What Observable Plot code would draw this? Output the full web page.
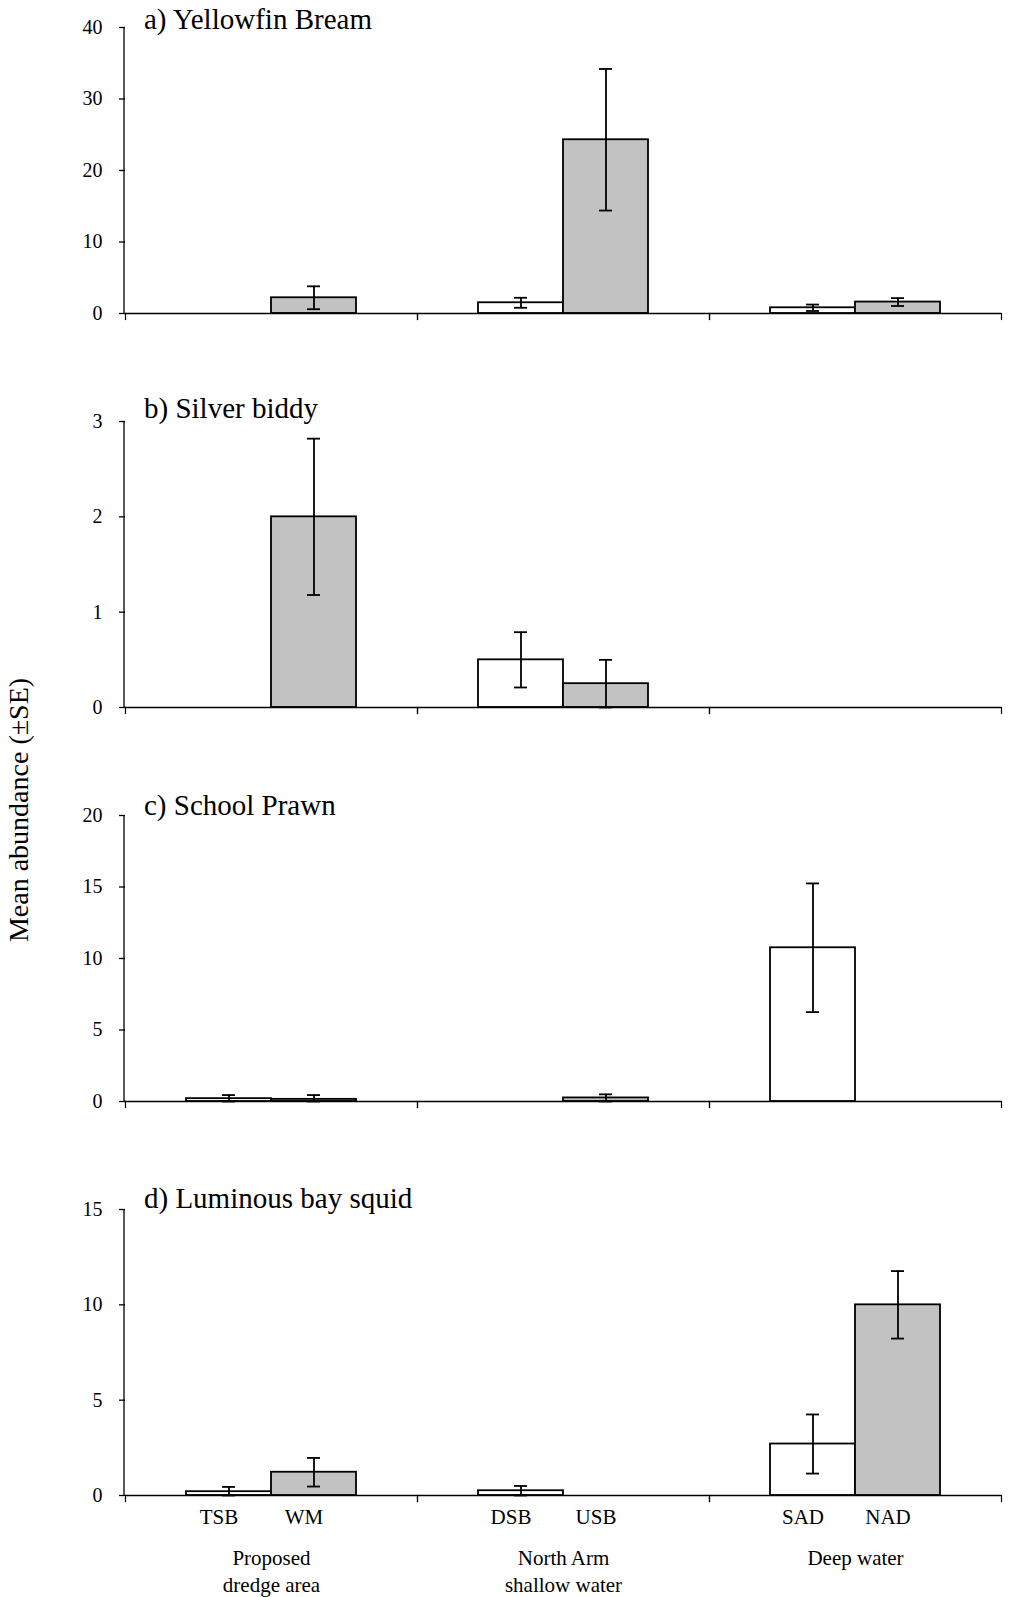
<!DOCTYPE html>
<html><head><meta charset="utf-8">
<script src="https://cdn.jsdelivr.net/npm/d3@7"></script>
<script src="https://cdn.jsdelivr.net/npm/@observablehq/plot@0.6"></script>
<style>
body{margin:0;background:#fff;}
#wrap{position:relative;width:1017px;height:1597px;font-family:"Liberation Serif","Times New Roman",serif;color:#000;overflow:hidden;}
.panel{position:absolute;left:0;width:1017px;}
.panel svg{overflow:visible;}
.ptitle{position:absolute;left:144px;font-size:29px;line-height:29px;white-space:nowrap;}
#ytitle{position:absolute;left:19px;top:810px;transform:translate(-50%,-50%) rotate(-90deg);font-size:28px;line-height:28px;white-space:nowrap;}
</style></head><body><div id="wrap"></div>
<script>
// ---- data ----
const sites = ["TSB","WM","DSB","USB","SAD","NAD"];
const siteGroups = ["dredge","dredge","northArm","northArm","deep","deep"];
const barTypes = ["open","stippled","open","stippled","open","stippled"];
const groupKeys = ["dredge","northArm","deep"];
const groupLabels = ["Proposed\ndredge area","North Arm\nshallow water","Deep water"];

const panelTitles = ["a) Yellowfin Bream","b) Silver biddy","c) School Prawn","d) Luminous bay squid"];
const yMaxes = [40, 3, 20, 15];
const yTicks = [[0,10,20,30,40],[0,1,2,3],[0,5,10,15,20],[0,5,10,15]];

const yellowfinMean = [0, 2.2, 1.5, 24.3, 0.8, 1.6];
const yellowfinSE   = [0, 1.6, 0.7, 9.9, 0.45, 0.55];
const silverMean    = [0, 2.0, 0.5, 0.25, 0, 0];
const silverSE      = [0, 0.82, 0.29, 0.25, 0, 0];
const prawnMean     = [0.2, 0.15, 0, 0.25, 10.75, 0];
const prawnSE       = [0.25, 0.3, 0, 0.25, 4.5, 0];
const squidMean     = [0.2, 1.22, 0.25, 0, 2.7, 10.0];
const squidSE       = [0.25, 0.75, 0.25, 0, 1.55, 1.77];

const panelMeans = [yellowfinMean, silverMean, prawnMean, squidMean];
const panelSEs = [yellowfinSE, silverSE, prawnSE, squidSE];

const yTitle = "Mean abundance (\u00b1SE)";

// ---- build ----
const wrap = document.getElementById("wrap");
const FONT = '"Liberation Serif","Times New Roman",serif';
const panelStep = 394, plotH = 286, mTop = 27, mLeft = 124;
const titleTops = [5, 0, 3, 2];

panelTitles.forEach((title, i) => {
  const last = i === panelTitles.length - 1;
  const H = last ? 415 : panelStep;
  const rows = sites.map((s, j) => ({site: s, group: siteGroups[j], type: barTypes[j], mean: panelMeans[i][j], se: panelSEs[i][j]}));
  const errRows = rows.filter(d => d.se > 0).map(d => ({...d, lo: Math.max(0, d.mean - d.se), hi: d.mean + d.se}));
  const groupRows = groupKeys.map((k, j) => ({key: k, label: groupLabels[j]}));

  const marks = [
    Plot.axisY({ticks: yTicks[i], tickSize: 6, tickPadding: 17, label: null, fontSize: 20, strokeWidth: 1.3, tickFormat: d => String(d)}),
    Plot.barY(rows, {fx: "group", x: "type", y: "mean", fill: "type", stroke: "black", strokeWidth: 1.8}),
    Plot.ruleY([0], {stroke: "black", strokeWidth: 1.4}),
    Plot.frame({anchor: "left", insetTop: plotH, insetBottom: -6, strokeWidth: 1.2}),
    Plot.frame({anchor: "right", insetTop: plotH, insetBottom: -6, strokeWidth: 1.2}),
    Plot.ruleX(errRows, {fx: "group", x: "type", y1: "lo", y2: "hi", stroke: "black", strokeWidth: 1.8}),
    Plot.tickY(errRows, {fx: "group", x: "type", y: "hi", insetLeft: 36, insetRight: 36, stroke: "black", strokeWidth: 1.8}),
    Plot.tickY(errRows, {fx: "group", x: "type", y: "lo", insetLeft: 36, insetRight: 36, stroke: "black", strokeWidth: 1.8})
  ];
  if (last) {
    marks.push(Plot.text(rows, {fx: "group", x: "type", text: "site", frameAnchor: "bottom", lineAnchor: "top", dy: 14, dx: -10, fontSize: 21}));
    marks.push(Plot.text(groupRows, {fx: "key", text: "label", frameAnchor: "bottom", lineAnchor: "top", dy: 50, fontSize: 21, lineHeight: 1.3}));
  }

  const svg = Plot.plot({
    width: 1017, height: H,
    marginLeft: mLeft, marginRight: 15, marginTop: mTop, marginBottom: H - mTop - plotH,
    style: {fontFamily: FONT, fontSize: "20px", color: "#000", background: "transparent", overflow: "visible"},
    fx: {domain: groupKeys, paddingInner: 0, paddingOuter: 0, axis: null, label: null},
    x: {domain: ["open", "stippled"], paddingInner: 0, paddingOuter: 0.7, axis: null},
    y: {domain: [0, yMaxes[i]], axis: null},
    color: {domain: ["open", "stippled"], range: ["#ffffff", "#c2c2c2"]},
    marks
  });

  // vertical y-axis line, placed with the plot's own y scale
  const ys = svg.scale("y");
  d3.select(svg).append("line")
    .attr("x1", mLeft).attr("x2", mLeft)
    .attr("y1", ys.apply(0)).attr("y2", ys.apply(yMaxes[i]))
    .attr("stroke", "black").attr("stroke-width", 1.3);

  const div = document.createElement("div");
  div.className = "panel";
  div.style.top = (i * panelStep) + "px";
  div.style.height = H + "px";
  div.appendChild(svg);
  const t = document.createElement("div");
  t.className = "ptitle";
  t.style.top = titleTops[i] + "px";
  t.textContent = title;
  div.appendChild(t);
  wrap.appendChild(div);
});

const yt = document.createElement("div");
yt.id = "ytitle";
yt.textContent = yTitle;
wrap.appendChild(yt);
</script></body></html>
